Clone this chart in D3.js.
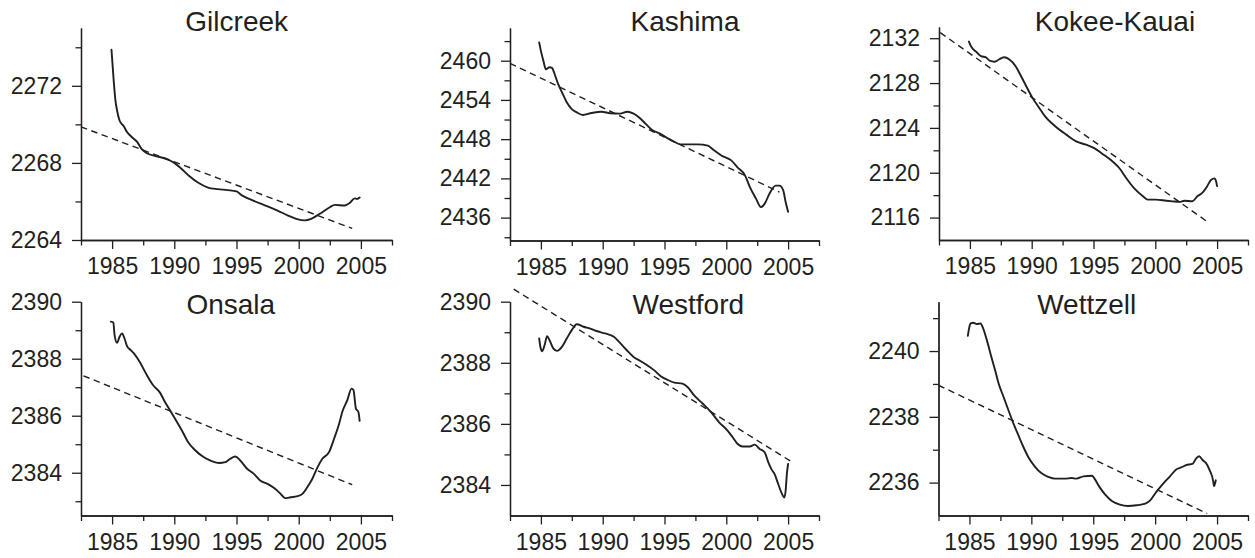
<!DOCTYPE html>
<html>
<head>
<meta charset="utf-8">
<script src="https://cdn.jsdelivr.net/npm/d3@7"></script>
<style>
  html, body { margin: 0; padding: 0; background: #fff; }
  svg { display: block; }
  text { font-family: "Liberation Sans", Arial, Helvetica, sans-serif; fill: #231f20; }
</style>
</head>
<body>
<svg id="chart" width="1255" height="558"></svg>
<script>
// ---------------- DATA ----------------
const stationNames = ["Gilcreek", "Kashima", "Kokee-Kauai", "Onsala", "Westford", "Wettzell"];

const xMajorTicks = [1985, 1990, 1995, 2000, 2005];
const xMinorTicks = [1982.5, 1987.5, 1992.5, 1997.5, 2002.5, 2007.5];
const xDomain = [1982.5, 2007.5];

const yDomains = [
  [2264, 2275], [2432.5, 2465], [2114, 2133],
  [2382.5, 2390], [2383, 2390], [2235, 2241.5]
];
const yMajorTicks = [
  [2264, 2268, 2272],
  [2436, 2442, 2448, 2454, 2460],
  [2116, 2120, 2124, 2128, 2132],
  [2384, 2386, 2388, 2390],
  [2384, 2386, 2388, 2390],
  [2236, 2238, 2240]
];
const yMinorTicks = [
  [2266, 2270, 2274],
  [2433, 2439, 2445, 2451, 2457, 2463],
  [2118, 2122, 2126, 2130],
  [2383, 2385, 2387, 2389],
  [2385, 2387, 2389],
  [2237, 2239, 2241]
];

// series: [year, value]
const gilcreek = [
  [1984.95, 2273.87], [1985.13, 2272.26], [1985.27, 2271.23], [1985.4, 2270.72], [1985.6, 2270.2],
  [1985.94, 2269.9], [1986.2, 2269.6], [1986.6, 2269.33], [1987.0, 2269.1], [1987.4, 2268.7],
  [1987.8, 2268.5], [1988.6, 2268.34], [1989.4, 2268.2], [1990.0, 2268.0], [1990.5, 2267.74],
  [1991.2, 2267.32], [1991.9, 2266.98], [1992.7, 2266.72], [1993.5, 2266.64], [1994.3, 2266.59],
  [1995.0, 2266.52], [1995.4, 2266.33], [1996.2, 2266.08], [1997.0, 2265.87], [1997.5, 2265.75],
  [1998.3, 2265.53], [1999.1, 2265.28], [1999.8, 2265.1], [2000.5, 2265.02], [2001.0, 2265.1],
  [2001.7, 2265.36], [2002.5, 2265.7], [2002.9, 2265.82], [2003.7, 2265.79], [2004.1, 2265.92],
  [2004.5, 2266.16], [2004.7, 2266.13], [2004.9, 2266.2]
];
const kashima = [
  [1984.86, 2462.8], [1985.0, 2461.5], [1985.2, 2460.0], [1985.4, 2458.7], [1985.7, 2459.0],
  [1985.9, 2458.9], [1986.1, 2458.0], [1986.4, 2456.4], [1986.7, 2455.2], [1987.1, 2453.6],
  [1987.5, 2452.6], [1987.9, 2452.1], [1988.4, 2451.7], [1989.1, 2452.0], [1989.9, 2452.2],
  [1990.6, 2451.97], [1991.4, 2451.9], [1992.0, 2452.2], [1992.5, 2451.9], [1992.9, 2451.4],
  [1993.5, 2450.3], [1994.0, 2449.4], [1994.6, 2448.9], [1995.2, 2448.2], [1995.8, 2447.6],
  [1996.3, 2447.2], [1997.0, 2447.2], [1997.7, 2447.2], [1998.5, 2447.0], [1999.0, 2446.3],
  [1999.6, 2445.5], [2000.4, 2444.75], [2000.9, 2443.7], [2001.5, 2442.5], [2001.9, 2440.7],
  [2002.4, 2438.9], [2002.8, 2437.6], [2003.1, 2438.1], [2003.5, 2439.7], [2004.0, 2440.9],
  [2004.3, 2440.9], [2004.6, 2440.2], [2004.8, 2438.4], [2005.0, 2436.9]
];
const kokee = [
  [1984.92, 2131.7], [1985.1, 2131.26], [1985.5, 2130.8], [1985.9, 2130.4], [1986.3, 2130.3],
  [1986.6, 2129.99], [1987.0, 2129.9], [1987.35, 2130.1], [1987.75, 2130.3], [1988.2, 2130.1],
  [1988.7, 2129.5], [1989.1, 2128.7], [1989.5, 2127.85], [1990.05, 2126.7], [1990.6, 2125.8],
  [1991.1, 2125.0], [1991.9, 2124.15], [1992.8, 2123.4], [1993.6, 2122.8], [1994.4, 2122.5],
  [1995.05, 2122.2], [1995.7, 2121.7], [1996.5, 2121.04], [1997.1, 2120.4], [1997.6, 2119.6],
  [1998.3, 2118.6], [1999.0, 2117.9], [1999.4, 2117.6], [2000.05, 2117.6], [2000.9, 2117.5],
  [2001.4, 2117.45], [2001.95, 2117.4], [2002.35, 2117.5], [2003.0, 2117.45], [2003.4, 2117.9],
  [2003.8, 2118.2], [2004.2, 2118.8], [2004.5, 2119.35], [2004.8, 2119.5], [2004.9, 2119.3],
  [2005.0, 2118.8]
];
const onsala = [
  [1984.9, 2389.3], [1985.1, 2389.27], [1985.2, 2388.83], [1985.4, 2388.56], [1985.6, 2388.77],
  [1985.8, 2388.89], [1986.0, 2388.71], [1986.2, 2388.44], [1986.5, 2388.3], [1986.8, 2388.16],
  [1987.2, 2387.9], [1987.8, 2387.42], [1988.3, 2387.07], [1988.85, 2386.81], [1989.25, 2386.48],
  [1989.65, 2386.19], [1990.05, 2385.9], [1990.6, 2385.49], [1991.1, 2385.08], [1991.7, 2384.78],
  [1992.35, 2384.55], [1993.0, 2384.41], [1993.6, 2384.34], [1994.1, 2384.37], [1994.5, 2384.49],
  [1994.9, 2384.57], [1995.3, 2384.43], [1995.85, 2384.14], [1996.4, 2383.96], [1996.9, 2383.73],
  [1997.5, 2383.61], [1998.0, 2383.47], [1998.55, 2383.26], [1998.9, 2383.11], [1999.35, 2383.14],
  [1999.9, 2383.18], [2000.3, 2383.26], [2000.7, 2383.5], [2001.1, 2383.79], [2001.5, 2384.18],
  [2001.9, 2384.49], [2002.45, 2384.73], [2002.85, 2385.2], [2003.25, 2385.72], [2003.5, 2386.13],
  [2003.9, 2386.54], [2004.25, 2386.95], [2004.4, 2386.9], [2004.6, 2386.25], [2004.8, 2386.13],
  [2004.9, 2385.82]
];
const westford = [
  [1984.86, 2388.8], [1984.97, 2388.5], [1985.1, 2388.38], [1985.3, 2388.58], [1985.5, 2388.87],
  [1985.7, 2388.74], [1986.0, 2388.47], [1986.3, 2388.39], [1986.7, 2388.52], [1987.1, 2388.8],
  [1987.5, 2389.07], [1987.9, 2389.26], [1988.45, 2389.18], [1989.0, 2389.12], [1989.5, 2389.04],
  [1990.2, 2388.96], [1990.9, 2388.85], [1991.4, 2388.65], [1991.95, 2388.41], [1992.5, 2388.19],
  [1993.05, 2388.06], [1993.6, 2387.92], [1994.15, 2387.76], [1994.7, 2387.56], [1995.2, 2387.45],
  [1995.8, 2387.35], [1996.45, 2387.32], [1996.9, 2387.19], [1997.4, 2386.93], [1998.1, 2386.66],
  [1998.75, 2386.39], [1999.4, 2386.06], [2000.1, 2385.78], [2000.5, 2385.57], [2000.9, 2385.35],
  [2001.3, 2385.26], [2001.9, 2385.26], [2002.3, 2385.32], [2002.7, 2385.18], [2003.1, 2385.07],
  [2003.4, 2384.74], [2003.65, 2384.52], [2003.9, 2384.36], [2004.2, 2384.03], [2004.45, 2383.76],
  [2004.7, 2383.59], [2004.8, 2383.81], [2004.9, 2384.36], [2005.0, 2384.69]
];
const wettzell = [
  [1984.87, 2240.46], [1984.97, 2240.69], [1985.1, 2240.84], [1985.3, 2240.86], [1985.6, 2240.82],
  [1985.9, 2240.84], [1986.05, 2240.74], [1986.4, 2240.34], [1986.8, 2239.78], [1987.07, 2239.42],
  [1987.35, 2239.02], [1987.75, 2238.61], [1988.15, 2238.2], [1988.55, 2237.8], [1988.95, 2237.44],
  [1989.35, 2237.09], [1989.75, 2236.78], [1990.3, 2236.48], [1990.8, 2236.29], [1991.4, 2236.17],
  [1991.9, 2236.12], [1992.7, 2236.12], [1993.25, 2236.14], [1993.65, 2236.12], [1994.2, 2236.19],
  [1994.9, 2236.21], [1995.1, 2236.12], [1995.5, 2235.87], [1995.95, 2235.64], [1996.5, 2235.44],
  [1997.15, 2235.33], [1997.8, 2235.29], [1998.5, 2235.31], [1999.2, 2235.36], [1999.6, 2235.46],
  [2000.1, 2235.72], [2000.65, 2235.97], [2001.2, 2236.19], [2001.7, 2236.4], [2002.1, 2236.46],
  [2002.5, 2236.53], [2003.05, 2236.58], [2003.3, 2236.73], [2003.55, 2236.8], [2003.85, 2236.68],
  [2004.1, 2236.6], [2004.4, 2236.38], [2004.7, 2236.02], [2004.75, 2235.89], [2004.9, 2236.07]
];

// linear trend lines: [start, end] as [year, value]
const trendGilcreek = [[1982.5, 2269.87], [2004.3, 2264.6]];
const trendKashima  = [[1982.5, 2459.6], [2004.3, 2439.9]];
const trendKokee    = [[1982.6, 2132.5], [2004.3, 2115.56]];
const trendOnsala   = [[1982.7, 2387.4], [2004.3, 2383.58]];
const trendWestford = [[1982.8, 2390.41], [2005.2, 2384.78]];
const trendWettzell = [[1982.5, 2238.96], [2004.2, 2235.06]];

const seriesList = [gilcreek, kashima, kokee, onsala, westford, wettzell];
const trendList = [trendGilcreek, trendKashima, trendKokee, trendOnsala, trendWestford, trendWettzell];

// ---------------- LAYOUT ----------------
const layout = [
  { left: 81,  right: 392,  top: 28,    bottom: 240,   titleX: 236.7,  titleY: 31 },
  { left: 510, right: 819,  top: 28,    bottom: 240.5, titleX: 685,    titleY: 31 },
  { left: 939, right: 1248, top: 27,    bottom: 240,   titleX: 1115,   titleY: 31 },
  { left: 81,  right: 392,  top: 301.7, bottom: 515.5, titleX: 230.8,  titleY: 313.5 },
  { left: 510, right: 819,  top: 301.7, bottom: 515.5, titleX: 688.3,  titleY: 313.5 },
  { left: 938.5, right: 1248, top: 301.7, bottom: 515.5, titleX: 1086.7, titleY: 314 }
];
const MAJOR = 9, MINOR = 5.5;
const ink = "#231f20";

const svg = d3.select("#chart");

stationNames.forEach((name, i) => {
  const L = layout[i];
  const x = d3.scaleLinear().domain(xDomain).range([L.left, L.right]);
  const y = d3.scaleLinear().domain(yDomains[i]).range([L.bottom, L.top]);
  const g = svg.append("g");

  // X axis: major ticks with labels
  const xAxisMajor = d3.axisBottom(x).tickValues(xMajorTicks).tickSize(MAJOR).tickSizeOuter(0)
    .tickPadding(9).tickFormat(d3.format("d"));
  const xAxisMinor = d3.axisBottom(x).tickValues(xMinorTicks).tickSize(MINOR).tickSizeOuter(0).tickFormat("");
  const gxMin = g.append("g").attr("transform", `translate(0,${L.bottom})`).call(xAxisMinor);
  const gx = g.append("g").attr("transform", `translate(0,${L.bottom})`).call(xAxisMajor);
  [gx, gxMin].forEach(a => {
    a.selectAll("path, line").attr("stroke", ink).attr("stroke-width", 1.3);
  });
  gx.selectAll("text").attr("font-size", 23).attr("fill", ink)
    .attr("font-family", '"Liberation Sans", Arial, sans-serif');

  // Y axis
  const yAxisMajor = d3.axisLeft(y).tickValues(yMajorTicks[i]).tickSize(MAJOR).tickSizeOuter(0)
    .tickPadding(10).tickFormat(d3.format("d"));
  const yAxisMinor = d3.axisLeft(y).tickValues(yMinorTicks[i]).tickSize(MINOR).tickSizeOuter(0).tickFormat("");
  const gyMin = g.append("g").attr("transform", `translate(${L.left},0)`).call(yAxisMinor);
  const gy = g.append("g").attr("transform", `translate(${L.left},0)`).call(yAxisMajor);
  [gy, gyMin].forEach(a => {
    a.selectAll("path, line").attr("stroke", ink).attr("stroke-width", 1.3);
  });
  gy.selectAll("text").attr("font-size", 23).attr("fill", ink)
    .attr("font-family", '"Liberation Sans", Arial, sans-serif');

  // trend (dashed)
  const line = d3.line().x(d => x(d[0])).y(d => y(d[1]));
  g.append("path").datum(trendList[i])
    .attr("d", line)
    .attr("fill", "none").attr("stroke", ink).attr("stroke-width", 1.4)
    .attr("stroke-dasharray", "6.5,4.5");

  // series curve
  const curve = d3.line().x(d => x(d[0])).y(d => y(d[1])).curve(d3.curveMonotoneX);
  g.append("path").datum(seriesList[i])
    .attr("d", curve)
    .attr("fill", "none").attr("stroke", ink).attr("stroke-width", 1.9)
    .attr("stroke-linejoin", "round").attr("stroke-linecap", "round");

  // title
  g.append("text").attr("x", L.titleX).attr("y", L.titleY)
    .attr("text-anchor", "middle").attr("font-size", 28).attr("fill", ink)
    .text(name);
});
</script>
</body>
</html>
